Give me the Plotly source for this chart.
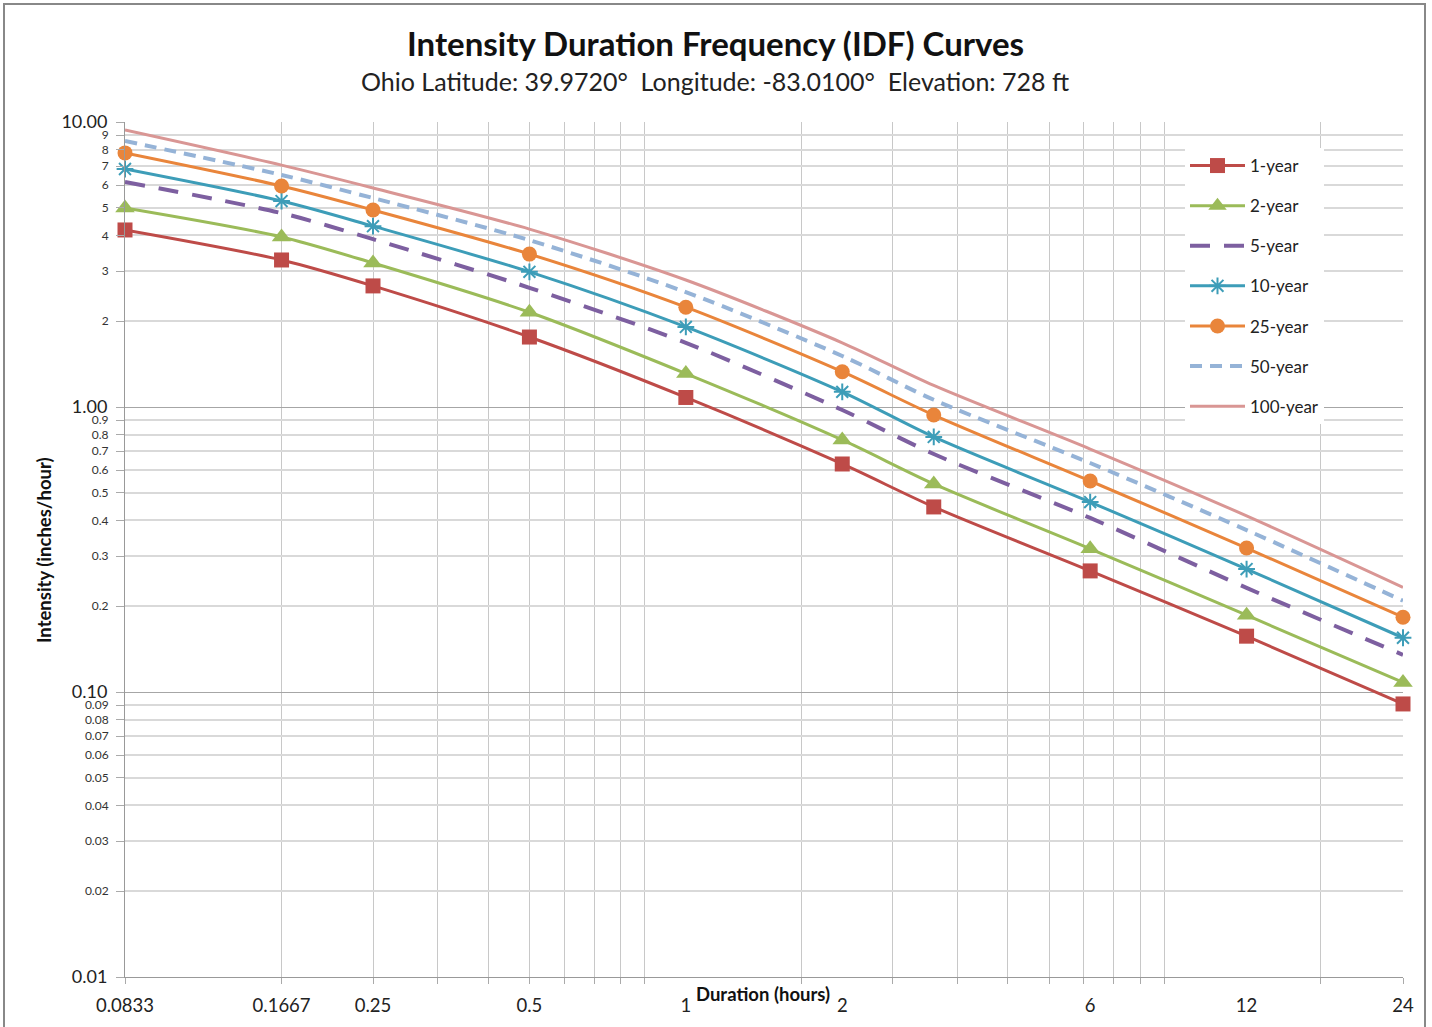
import plotly.graph_objects as go
import numpy as np

# ---- data ----
durations = [0.0833, 0.1667, 0.25, 0.5, 1, 2, 3, 6, 12, 24]
series_names = ["1-year", "2-year", "5-year", "10-year", "25-year", "50-year", "100-year"]
y_1yr = [4.18, 3.28, 2.66, 1.76, 1.08, 0.631, 0.446, 0.266, 0.157, 0.0908]
y_2yr = [4.99, 3.95, 3.20, 2.15, 1.31, 0.766, 0.537, 0.318, 0.186, 0.108]
y_5yr = [6.16, 4.79, 3.88, 2.62, 1.68, 0.976, 0.684, 0.408, 0.232, 0.135]
y_10yr = [6.84, 5.28, 4.31, 2.98, 1.91, 1.13, 0.785, 0.464, 0.270, 0.155]
y_25yr = [7.79, 5.96, 4.91, 3.44, 2.24, 1.33, 0.937, 0.550, 0.320, 0.183]
y_50yr = [8.58, 6.52, 5.41, 3.85, 2.53, 1.51, 1.06, 0.636, 0.370, 0.209]
y_100yr = [9.37, 7.06, 5.87, 4.21, 2.79, 1.68, 1.19, 0.712, 0.415, 0.233]

x_label_vals = [0.0833, 0.1667, 0.25, 0.5, 1, 2, 6, 12, 24]
x_label_text = ["0.0833", "0.1667", "0.25", "0.5", "1", "2", "6", "12", "24"]

y_major_vals = [0.01, 0.1, 1, 10]
y_major_text = ["0.01", "0.10", "1.00", "10.00"]
y_minor_vals = [0.02, 0.03, 0.04, 0.05, 0.06, 0.07, 0.08, 0.09,
                0.2, 0.3, 0.4, 0.5, 0.6, 0.7, 0.8, 0.9,
                2, 3, 4, 5, 6, 7, 8, 9]
y_minor_text = ["0.02", "0.03", "0.04", "0.05", "0.06", "0.07", "0.08", "0.09",
                "0.2", "0.3", "0.4", "0.5", "0.6", "0.7", "0.8", "0.9",
                "2", "3", "4", "5", "6", "7", "8", "9"]

# x gridlines: Excel log axis based at minimum 0.0833
base = 1 / 12
x_grid_vals = [base * k * 10 ** n for n in range(3) for k in range(1, 10) if base * k * 10 ** n <= 24] + [24]

FONT = "Lato"

styles = [
    dict(color="#BE4B48", dash="solid", width=3, symbol="square", size=15),
    dict(color="#9BBB59", dash="solid", width=3, symbol="triangle-up", size=17),
    dict(color="#7D5FA0", dash="20px,14px", width=4, symbol=None, size=0),
    dict(color="#3D9DB8", dash="solid", width=3, symbol="asterisk-open", size=14),
    dict(color="#E9853B", dash="solid", width=3, symbol="circle", size=15),
    dict(color="#95B3D7", dash="12px,8px", width=4, symbol=None, size=0),
    dict(color="#D99694", dash="solid", width=3, symbol=None, size=0),
]
all_y = [y_1yr, y_2yr, y_5yr, y_10yr, y_25yr, y_50yr, y_100yr]

fig = go.Figure()
for name, ys, st in zip(series_names, all_y, styles):
    if st["symbol"]:
        mode = "lines+markers"
        marker = dict(symbol=st["symbol"], size=st["size"], color=st["color"],
                      line=dict(color=st["color"], width=2 if "asterisk" in st["symbol"] else 0))
    else:
        mode = "lines"
        marker = None
    fig.add_trace(go.Scatter(
        x=durations, y=ys, name=name, mode=mode,
        line=dict(color=st["color"], width=st["width"], dash=st["dash"], shape="spline", smoothing=0.8),
        marker=marker, cliponaxis=False, legendgroup=name,
    ))

# invisible trace to activate overlay axes
fig.add_trace(go.Scatter(x=[durations[0]], y=[y_1yr[0]], xaxis="x2", yaxis="y2",
                         mode="markers", marker=dict(opacity=0), showlegend=False, hoverinfo="skip"))

xr = [np.log10(0.0833), np.log10(24)]
fig.update_layout(
    width=1432, height=1027,
    margin=dict(l=125, r=29, t=122, b=50),
    paper_bgcolor="white", plot_bgcolor="white",
    font=dict(family=FONT, color="#222"),
    showlegend=True,
    legend=dict(x=(1185 - 125) / 1278, y=(977 - 148) / 855, xanchor="left", yanchor="top",
                bgcolor="white", borderwidth=0, font=dict(size=17, family=FONT, color="#222"),
                itemwidth=55, tracegroupgap=15, traceorder="grouped"),
    xaxis=dict(type="log", range=xr, tickvals=x_grid_vals, ticktext=[""] * len(x_grid_vals),
               showgrid=True, gridcolor="#C8C8C8", gridwidth=1,
               ticks="outside", ticklen=6, tickcolor="#AAAAAA",
               showline=True, linecolor="#999999", linewidth=1, zeroline=False),
    xaxis2=dict(type="log", range=xr, overlaying="x", side="bottom",
                tickvals=x_label_vals, ticktext=x_label_text, showgrid=False, ticks="",
                ticklabelstandoff=15, tickfont=dict(size=18.5, family=FONT, color="#222"),
                showline=False, zeroline=False),
    yaxis=dict(type="log", range=[-2, 1], tickvals=y_minor_vals, ticktext=y_minor_text,
               showgrid=True, gridcolor="#D9D9D9", gridwidth=1.5,
               ticks="outside", ticklen=8, tickcolor="#AAAAAA", ticklabelstandoff=5,
               tickfont=dict(size=12, family=FONT, color="#333"),
               showline=True, linecolor="#999999", linewidth=1, zeroline=False),
    yaxis2=dict(type="log", range=[-2, 1], overlaying="y", side="left",
                tickvals=y_major_vals, ticktext=y_major_text,
                showgrid=True, gridcolor="#A6A6A6", gridwidth=1,
                ticks="outside", ticklen=8, tickcolor="#AAAAAA", ticklabelstandoff=5,
                tickfont=dict(size=18, family=FONT, color="#222"), zeroline=False),
)

fig.add_annotation(text="<b>Intensity Duration Frequency (IDF) Curves</b>", xref="paper", yref="paper",
                   x=(715 - 125) / 1278, y=(977 - 43) / 855, xanchor="center", yanchor="middle",
                   showarrow=False, font=dict(size=33, family=FONT, color="#111"))
fig.add_annotation(text="Ohio Latitude: 39.9720°\u00a0 Longitude: -83.0100°\u00a0 Elevation: 728 ft",
                   xref="paper", yref="paper",
                   x=(715 - 125) / 1278, y=(977 - 81) / 855, xanchor="center", yanchor="middle",
                   showarrow=False, font=dict(size=25, family=FONT, color="#222"))
fig.add_annotation(text="<b>Duration (hours)</b>", xref="paper", yref="paper",
                   x=(763 - 125) / 1278, y=(977 - 994) / 855, xanchor="center", yanchor="middle",
                   showarrow=False, font=dict(size=18.5, family=FONT, color="#111"))
fig.add_annotation(text="<b>Intensity (inches/hour)</b>", xref="paper", yref="paper",
                   x=(44 - 125) / 1278, y=(977 - 550) / 855, xanchor="center", yanchor="middle",
                   textangle=-90, showarrow=False, font=dict(size=18.5, family=FONT, color="#111"))

# outer chart border
fig.add_shape(type="rect", xref="paper", yref="paper",
              x0=(4 - 125) / 1278, x1=(1425 - 125) / 1278,
              y0=(977 - 1040) / 855, y1=(977 - 4) / 855,
              line=dict(color="#888888", width=2), layer="below")

fig.write_html("out.html", config={"displayModeBar": False},
               post_script="document.body.style.margin='0';")
